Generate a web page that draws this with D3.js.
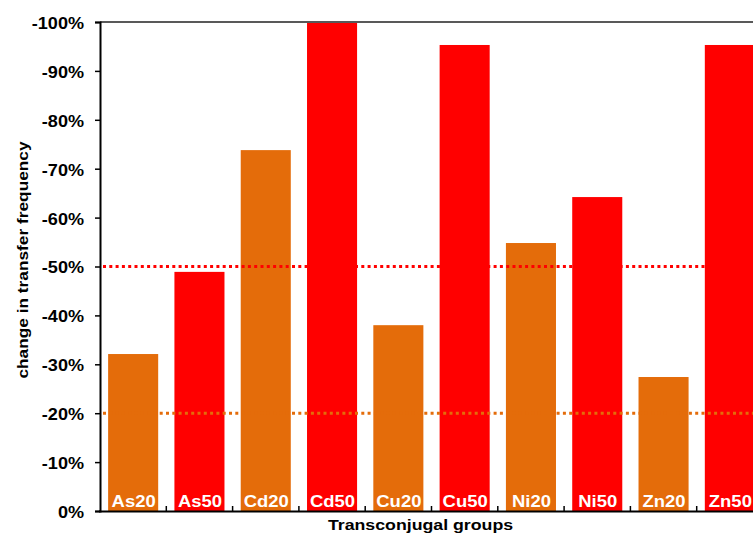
<!DOCTYPE html>
<html><head><meta charset="utf-8">
<script src="https://cdn.jsdelivr.net/npm/d3@7"></script>
<style>body{margin:0;background:#fff}svg{display:block;font-family:"Liberation Sans",Arial,sans-serif}</style>
</head><body><svg id="c" width="753" height="535"></svg>
<script>
const categories = ["As20","As50","Cd20","Cd50","Cu20","Cu50","Ni20","Ni50","Zn20","Zn50"];
const values = [32.1, 48.9, 73.8, 100, 38.0, 95.3, 54.8, 64.2, 27.4, 95.3];
const doses = ["20","50","20","50","20","50","20","50","20","50"];
const yTicks = [0,10,20,30,40,50,60,70,80,90,100];
const refLines = [{v:50, dose:"50"},{v:20, dose:"20"}];
const colors = {"20":"#E46C0A","50":"#FF0000"};

(function(){
const svg = d3.select("#c");
const pL = 100, pR = 763, pT = 22, pB = 511;
const SX = 1.13;
const x = d3.scaleBand().domain(categories).range([pL, pR]).paddingInner(0.245).paddingOuter(0.1225);
const y = d3.scaleLinear().domain([0,100]).range([pB, pT]);

// bars
svg.append("g").selectAll("rect").data(categories).join("rect")
  .attr("x", d => x(d)).attr("width", x.bandwidth())
  .attr("y", (d,i) => y(values[i])).attr("height", (d,i) => pB - y(values[i]))
  .attr("fill", (d,i) => colors[doses[i]]);

// bar labels
svg.append("g").selectAll("text").data(categories).join("text")
  .attr("transform", d => `translate(${x(d) + x.bandwidth()/2 + 0.5},${pB - 4.3}) scale(1.12,1)`)
  .attr("text-anchor","middle").attr("fill","#fff")
  .attr("font-weight","bold").attr("font-size","16.5px").text(d => d);

// reference lines
svg.append("g").selectAll("line").data(refLines).join("line")
  .attr("x1", pL + 3).attr("x2", pR).attr("y1", d => y(d.v)).attr("y2", d => y(d.v))
  .attr("stroke", d => colors[d.dose]).attr("stroke-width", 3).attr("stroke-dasharray","3,3.3");

// top border
svg.append("line").attr("x1", pL).attr("x2", pR).attr("y1", pT).attr("y2", pT)
  .attr("stroke","#595959").attr("stroke-width",2);

// y axis
const yAxis = d3.axisLeft(y).tickValues(yTicks).tickSize(5).tickFormat(d => d === 0 ? "0%" : "-" + d + "%");
const gy = svg.append("g").attr("transform", `translate(${pL},0)`).call(yAxis);
gy.select(".domain").attr("stroke","#000").attr("stroke-width",2);
gy.selectAll(".tick line").attr("stroke","#000").attr("stroke-width",1.5);
gy.selectAll(".tick text").attr("x",-16/SX).attr("dy","0.4em").attr("font-size","16px")
  .attr("transform", `scale(${SX},1)`)
  .attr("font-weight","bold").attr("fill","#000").attr("font-family",'"Liberation Sans",Arial,sans-serif');

// x axis with ticks between categories (inside)
const boundaries = categories.slice(1).map(c => x(c) - x.step()*x.paddingInner()/2);
svg.append("line").attr("x1", pL - 1).attr("x2", pR).attr("y1", pB + 0.5).attr("y2", pB + 0.5)
  .attr("stroke","#000").attr("stroke-width",2);
svg.append("g").selectAll("line").data(boundaries).join("line")
  .attr("x1", d => d).attr("x2", d => d).attr("y1", pB).attr("y2", pB - 5)
  .attr("stroke","#000").attr("stroke-width",1.5);

// axis titles
svg.append("text").attr("transform", `translate(420.5,530) scale(1.16,1)`).attr("text-anchor","middle")
  .attr("font-weight","bold").attr("font-size","15.3px").text("Transconjugal groups");
svg.append("text").attr("transform", `translate(28,260) rotate(-90) scale(1.13,1)`).attr("text-anchor","middle")
  .attr("font-weight","bold").attr("font-size","15.3px").text("change in transfer frequency");
})();
</script></body></html>
